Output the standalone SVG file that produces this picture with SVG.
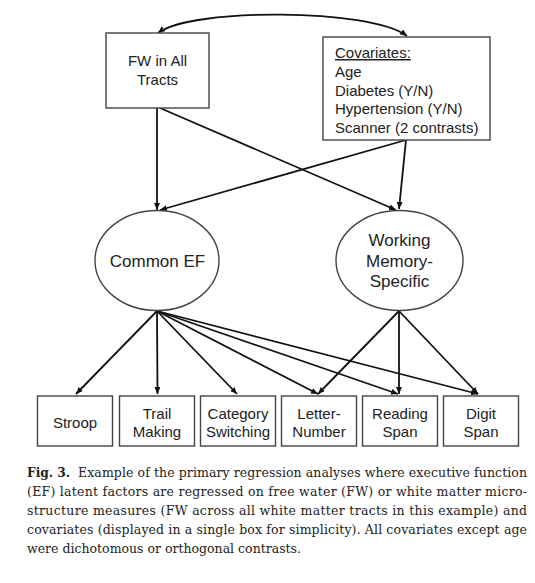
<svg xmlns="http://www.w3.org/2000/svg" width="535" height="583" viewBox="0 0 535 583">
<style>
.box{fill:#fff;stroke:#444;stroke-width:1.4}
.lbl{font-family:"Liberation Sans",Arial,sans-serif;font-size:15px;fill:#222}
.big{font-size:17px}
.edge{fill:none;stroke:#111;stroke-width:1.8}
.cap{font-family:"DejaVu Serif",serif;font-size:12.5px;fill:#222}
</style>
<defs>
<marker id="ah" markerUnits="userSpaceOnUse" markerWidth="8" markerHeight="7" refX="7" refY="3" orient="auto-start-reverse">
<path d="M0,0 L7,3 L0,6 z" fill="#111"/>
</marker>
</defs>
<rect width="535" height="583" fill="#fff"/>
<g id="connectors">
<path class="edge" d="M158,33 C190,8 370,8 407,36" marker-start="url(#ah)" marker-end="url(#ah)"/>
<path class="edge" d="M157,108 L157,210" marker-end="url(#ah)"/>
<path class="edge" d="M160,108 L396,210" marker-end="url(#ah)"/>
<path class="edge" d="M406,140 L399,209" marker-end="url(#ah)"/>
<path class="edge" d="M406,140 L160,210" marker-end="url(#ah)"/>
<path class="edge" d="M157,311 L76,394" marker-end="url(#ah)"/>
<path class="edge" d="M157,311 L157.5,394" marker-end="url(#ah)"/>
<path class="edge" d="M157,311 L237,394" marker-end="url(#ah)"/>
<path class="edge" d="M157,311 L318,394" marker-end="url(#ah)"/>
<path class="edge" d="M157,311 L398,394" marker-end="url(#ah)"/>
<path class="edge" d="M157,311 L478,394" marker-end="url(#ah)"/>
<path class="edge" d="M399,311 L318,394" marker-end="url(#ah)"/>
<path class="edge" d="M399,311 L399,394" marker-end="url(#ah)"/>
<path class="edge" d="M399,311 L478,394" marker-end="url(#ah)"/>
</g>
<g id="fw">
<rect class="box" x="106" y="33" width="103" height="75"/>
<text class="lbl" x="157.5" y="66" text-anchor="middle">FW in All</text>
<text class="lbl" x="157.5" y="85" text-anchor="middle">Tracts</text>
</g>
<g id="covariates">
<rect class="box" x="323" y="37" width="167" height="103"/>
<text class="lbl" x="335" y="58" text-decoration="underline">Covariates:</text>
<text class="lbl" x="335" y="77">Age</text>
<text class="lbl" x="335" y="96">Diabetes (Y/N)</text>
<text class="lbl" x="335" y="114">Hypertension (Y/N)</text>
<text class="lbl" x="335" y="133">Scanner (2 contrasts)</text>
</g>
<g id="common-ef">
<ellipse class="box" cx="157" cy="260.5" rx="62" ry="50"/>
<text class="lbl big" x="157.5" y="266.5" text-anchor="middle">Common EF</text>
</g>
<g id="wm-specific">
<ellipse class="box" cx="399.5" cy="260.5" rx="63.5" ry="50"/>
<text class="lbl big" x="399.5" y="246" text-anchor="middle">Working</text>
<text class="lbl big" x="399.5" y="266.5" text-anchor="middle">Memory-</text>
<text class="lbl big" x="399.5" y="287" text-anchor="middle">Specific</text>
</g>
<g id="stroop">
<rect class="box" x="37.5" y="396" width="75" height="50"/>
<text class="lbl" x="75" y="427.5" text-anchor="middle">Stroop</text>
</g>
<g id="trail">
<rect class="box" x="119.5" y="396" width="75" height="50"/>
<text class="lbl" x="157" y="418.5" text-anchor="middle">Trail</text>
<text class="lbl" x="157" y="436.5" text-anchor="middle">Making</text>
</g>
<g id="category">
<rect class="box" x="200.5" y="396" width="75" height="50"/>
<text class="lbl" x="238" y="418.5" text-anchor="middle">Category</text>
<text class="lbl" x="238" y="436.5" text-anchor="middle">Switching</text>
</g>
<g id="letter">
<rect class="box" x="281.5" y="396" width="75" height="50"/>
<text class="lbl" x="319" y="418.5" text-anchor="middle">Letter-</text>
<text class="lbl" x="319" y="436.5" text-anchor="middle">Number</text>
</g>
<g id="reading">
<rect class="box" x="362.5" y="396" width="75" height="50"/>
<text class="lbl" x="400" y="418.5" text-anchor="middle">Reading</text>
<text class="lbl" x="400" y="436.5" text-anchor="middle">Span</text>
</g>
<g id="digit">
<rect class="box" x="443.5" y="396" width="75" height="50"/>
<text class="lbl" x="481" y="418.5" text-anchor="middle">Digit</text>
<text class="lbl" x="481" y="436.5" text-anchor="middle">Span</text>
</g>
<g id="caption">
<text class="cap" x="27" y="477" font-weight="bold" textLength="43" lengthAdjust="spacingAndGlyphs">Fig. 3.</text>
<text class="cap" x="78" y="477" textLength="449" lengthAdjust="spacing">Example of the primary regression analyses where executive function</text>
<text class="cap" x="27" y="496" textLength="500" lengthAdjust="spacing">(EF) latent factors are regressed on free water (FW) or white matter micro-</text>
<text class="cap" x="27" y="515" textLength="500" lengthAdjust="spacing">structure measures (FW across all white matter tracts in this example) and</text>
<text class="cap" x="27" y="534" textLength="500" lengthAdjust="spacing">covariates (displayed in a single box for simplicity). All covariates except age</text>
<text class="cap" x="27" y="553" textLength="274" lengthAdjust="spacing">were dichotomous or orthogonal contrasts.</text>
</g>
</svg>
